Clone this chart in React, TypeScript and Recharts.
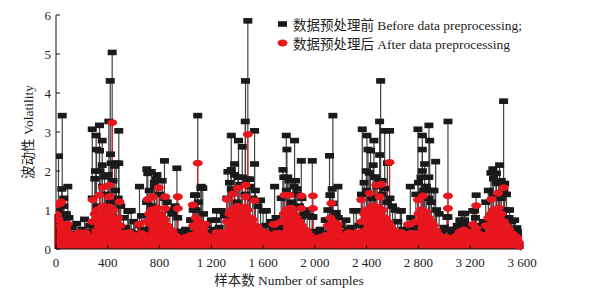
import React from "react";
import { ScatterChart, Scatter, XAxis, YAxis, ErrorBar } from "recharts";

// samples are read every 20 along the x axis for the dense lower part
const SAMPLE_STEP = 20;

const xTicks = [0, 400, 800, 1200, 1600, 2000, 2400, 2800, 3200, 3600];
const yTicks = [0, 1, 2, 3, 4, 5, 6];

// before preprocessing: dense lower values (one per SAMPLE_STEP)
const blackBase = [
  0.85, 1.0, 0.75, 1.1, 0.9, 0.8,
  0.55, 0.4, 0.65, 0.35, 0.5, 0.76, 0.45, 0.6,
  1.3, 1.8, 1.1, 2.0, 1.6, 1.4, 1.9, 1.2, 1.75, 1.5, 1.3, 1.1,
  0.8, 0.55, 0.98, 0.45, 0.7, 0.4, 0.6, 0.85, 0.5,
  1.2, 1.5, 1.1, 1.7, 1.9, 1.4, 1.75, 1.3, 1.2, 1.0, 0.9, 1.1, 0.8,
  0.45, 0.35, 0.5, 0.4, 0.74,
  1.0, 1.38, 1.2, 1.56, 0.9,
  0.6, 0.45, 0.74, 0.5, 0.98, 0.55, 0.4, 0.85,
  1.3, 1.7, 1.5, 1.9, 1.2, 1.65, 1.84, 1.4, 1.79, 1.6, 1.3, 1.5, 1.1, 1.25,
  0.98, 0.6, 0.45, 0.7, 0.5, 0.8, 0.55,
  1.3, 1.84, 1.5, 1.75, 1.2, 1.6, 1.4, 1.1, 1.3, 0.9, 1.0, 0.85, 0.82,
  0.45, 0.35, 0.5, 0.4, 0.74,
  1.0, 1.38, 1.17, 0.93, 0.8,
  0.6, 0.45, 0.74, 0.5, 0.55, 0.98, 0.4, 0.6,
  1.4, 1.7, 1.5, 1.95, 1.3, 1.84, 1.6, 1.75, 1.4, 1.55, 1.2, 1.3, 1.1, 1.0,
  0.7, 0.98, 0.5, 0.45, 0.6, 0.8, 0.55,
  1.4, 1.7, 1.84, 1.5, 1.6, 1.3, 1.2, 1.5, 1.0, 0.9,
  0.45, 0.55, 0.82, 0.5, 0.4,
  0.5, 0.6, 0.74, 0.91, 0.6, 0.5, 0.45, 0.98, 0.8, 0.6, 0.5, 0.7,
  1.2, 1.5, 1.95, 1.4, 1.7, 1.68, 1.3, 1.5, 1.0, 0.8, 0.7,
  0.5, 0.45, 0.35, 0.25,
];

// before preprocessing: the taller single samples [sample, volatility]
const blackPeaks: [number, number][] = [
  [19, 2.38], [48, 3.42], [45, 1.54], [91, 1.6], [60, 1.3],
  [280, 3.07], [336, 3.17], [310, 2.91], [357, 2.78], [313, 2.55], [336, 2.52],
  [357, 2.15], [305, 2.0], [421, 2.43], [485, 2.2], [454, 2.13], [408, 3.27],
  [419, 4.31], [434, 5.04], [485, 3.03], [375, 1.85], [427, 2.2], [465, 2.2],
  [555, 0.97], [581, 0.98], [645, 1.6], [702, 2.05], [709, 1.94], [736, 1.98],
  [774, 1.79], [838, 2.26], [934, 2.07], [760, 1.6],
  [1095, 3.42], [1122, 1.6], [1134, 1.56], [1070, 1.38], [1083, 1.0], [1045, 0.74],
  [1238, 0.74], [1277, 0.98],
  [1462, 3.27], [1464, 4.31], [1482, 5.85], [1534, 3.03], [1354, 2.91], [1410, 2.78],
  [1439, 2.62], [1328, 1.98], [1354, 2.03], [1380, 2.18], [1534, 2.18], [1405, 1.84],
  [1495, 1.79], [1354, 1.54],
  [1625, 0.98], [1689, 1.6],
  [1779, 2.91], [1843, 2.78], [1784, 2.55], [1753, 2.03], [1790, 1.84], [1895, 2.26],
  [1980, 2.26], [1850, 1.75], [1860, 1.54], [1985, 0.82], [1895, 0.82],
  [2139, 3.42], [2113, 2.39], [2134, 1.54], [2178, 1.6], [2116, 1.38], [2165, 0.93],
  [2088, 0.74], [2320, 0.98],
  [2366, 3.07], [2402, 2.91], [2456, 2.78], [2500, 3.27], [2508, 4.31], [2539, 3.03],
  [2577, 3.03], [2410, 2.55], [2430, 2.52], [2397, 2.0], [2450, 2.15], [2500, 2.41],
  [2560, 2.2], [2470, 1.84], [2520, 1.75],
  [2668, 0.98], [2737, 1.6],
  [2796, 3.07], [2881, 3.17], [2830, 2.91], [2887, 2.78], [2830, 2.55], [2933, 2.24],
  [2848, 2.18], [2830, 2.0], [2880, 1.84], [2860, 1.6], [2900, 1.5],
  [3028, 3.27], [3028, 0.82],
  [3157, 0.91], [3234, 0.98], [3246, 1.38], [3157, 0.74],
  [3458, 3.79], [3375, 2.05], [3427, 2.15], [3402, 1.94], [3466, 1.68], [3380, 1.8],
  [3440, 1.75], [3480, 1.4], [3504, 1.0], [3543, 0.74], [3560, 0.54], [3596, 0.44],
];

// after preprocessing: dense lower values (one per SAMPLE_STEP)
const redBase = [
  0.9, 0.75, 0.6, 0.63, 0.5, 0.4,
  0.3, 0.25, 0.35, 0.42, 0.3, 0.2, 0.35, 0.28,
  0.7, 0.9, 1.0, 0.8, 1.1, 0.95, 1.07, 0.85, 1.0, 0.75, 0.8, 0.6,
  0.4, 0.3, 0.42, 0.25, 0.35, 0.3, 0.63, 0.4, 0.3,
  0.7, 0.9, 1.0, 0.85, 1.05, 0.9, 0.8, 0.75, 0.6, 0.5, 0.45, 0.35, 0.3,
  0.25, 0.2, 0.3, 0.28, 0.35,
  0.6, 0.8, 0.7, 0.63, 0.5,
  0.35, 0.3, 0.25, 0.3, 0.42, 0.35, 0.28, 0.4,
  0.7, 0.9, 1.0, 0.85, 1.1, 0.95, 1.07, 0.9, 1.0, 0.8, 0.75, 0.6, 0.55, 0.45,
  0.4, 0.42, 0.3, 0.35, 0.63, 0.4, 0.3,
  0.7, 0.9, 1.0, 0.85, 1.05, 0.9, 0.8, 0.7, 0.6, 0.5, 0.45, 0.35, 0.3,
  0.25, 0.2, 0.3, 0.28, 0.35,
  0.6, 0.8, 0.7, 0.63, 0.5,
  0.35, 0.3, 0.25, 0.42, 0.3, 0.35, 0.28, 0.4,
  0.7, 0.9, 1.0, 0.85, 1.1, 0.95, 1.07, 0.9, 1.0, 0.8, 0.7, 0.6, 0.5, 0.42,
  0.35, 0.42, 0.3, 0.35, 0.63, 0.4, 0.3,
  0.7, 0.9, 1.0, 0.85, 0.95, 0.8, 0.7, 0.6, 0.45, 0.35,
  0.25, 0.2, 0.3, 0.28, 0.25,
  0.3, 0.35, 0.44, 0.4, 0.3, 0.35, 0.42, 0.63, 0.5, 0.4, 0.3, 0.35,
  0.6, 0.8, 0.9, 1.0, 0.85, 1.05, 0.9, 0.7, 0.6, 0.5, 0.4,
  0.35, 0.3, 0.25, 0.2,
];

// after preprocessing: the separate upper samples
const redPeaks: [number, number][] = [
  [6, 1.13], [40, 1.21], [35, 1.17], [91, 0.64], [228, 0.42],
  [284, 1.26], [336, 1.38], [362, 1.58], [413, 1.64], [413, 1.34], [413, 1.08],
  [434, 3.24], [491, 1.21], [568, 0.42], [645, 0.64],
  [709, 1.27], [748, 1.34], [794, 1.57], [844, 1.34], [844, 1.04], [941, 1.34], [941, 1.04],
  [1057, 1.13], [1095, 2.2], [1153, 0.64], [1277, 0.42],
  [1320, 1.27], [1366, 1.41], [1405, 1.56], [1465, 1.64], [1465, 1.34], [1465, 1.07],
  [1482, 2.94], [1534, 1.24], [1619, 0.42], [1689, 0.63],
  [1766, 1.38], [1804, 1.38], [1895, 1.36], [1895, 1.04], [1985, 1.36], [1985, 1.04],
  [2127, 1.17], [2178, 0.63], [2320, 0.42],
  [2358, 1.26], [2424, 1.43], [2474, 1.64], [2513, 1.66], [2500, 1.34], [2500, 1.04],
  [2577, 2.22], [2668, 0.42], [2737, 0.64], [2796, 1.26], [2835, 1.36],
  [3028, 1.36], [3028, 1.04], [3151, 0.49], [3246, 1.11], [3246, 0.53],
  [3363, 1.27], [3414, 1.43], [3458, 1.57], [3600, 0.05],
];

const BLACK = "#1a1a1a";
const RED = "#e8161e";
const FONT = "'Liberation Serif', 'Noto Sans CJK SC', serif";

// each point carries its stem as an error range reaching down to 0
const toPoint = (x: number, y: number) => ({ x, y, stem: [y, 0] });

const blackData = [
  ...blackBase.map((y, i) => toPoint(i * SAMPLE_STEP, y)),
  ...blackPeaks.map(([x, y]) => toPoint(x, y)),
];
const redBaseData = redBase.map((y, i) => toPoint(i * SAMPLE_STEP, y));
const redPeakData = redPeaks.map(([x, y]) => toPoint(x, y));

const fmtSample = (v: number) =>
  v >= 1000 ? `${Math.floor(v / 1000)} ${String(v % 1000).padStart(3, "0")}` : `${v}`;

// plain svg text so every sample label is kept
const SampleTick = ({ x, y, payload }: any) => (
  <text x={x} y={y} dy="0.75em" textAnchor="middle" fontSize={13} fill="#222" fontFamily={FONT}>
    {fmtSample(payload.value)}
  </text>
);

const SquareMark = (props: any) => {
  const { cx, cy } = props;
  if (cx == null || cy == null) return null;
  return <rect x={cx - 4.5} y={cy - 2.8} width={9} height={5.6} fill={BLACK} />;
};

const EllipseMark = (props: any) => {
  const { cx, cy } = props;
  if (cx == null || cy == null) return null;
  return <ellipse cx={cx} cy={cy} rx={5} ry={3.4} fill={RED} />;
};

export default function App() {
  const tickStyle = { fontSize: 13, fill: "#222", fontFamily: FONT };
  return (
    <div style={{ position: "absolute", left: 0, top: 0, width: 596, height: 292, background: "#fff" }}>
      <ScatterChart width={596} height={292} margin={{ top: 15, right: 74, bottom: 7, left: 16 }}>
        <XAxis
          type="number"
          dataKey="x"
          domain={[0, 3600]}
          ticks={xTicks}
          interval={0}
          tick={<SampleTick />}
          tickSize={-4}
          tickMargin={12}
          height={36}
          stroke="#111"
          allowDataOverflow
          label={{ value: "样本数 Number of samples", position: "insideBottom", offset: 0, style: { fontSize: 13.5, fill: "#222", fontFamily: FONT } }}
        />
        <YAxis
          type="number"
          dataKey="y"
          domain={[0, 6]}
          ticks={yTicks}
          interval={0}
          tick={tickStyle}
          tickSize={-4}
          tickMargin={9}
          width={40}
          stroke="#111"
          label={{ value: "波动性 Volatility", angle: -90, position: "insideLeft", offset: 12, style: { textAnchor: "middle", fontSize: 13.5, fill: "#222", fontFamily: FONT } }}
        />
        <Scatter data={blackData} shape={SquareMark} isAnimationActive={false}>
          <ErrorBar dataKey="stem" direction="y" width={0} stroke="#444" strokeWidth={1.2} isAnimationActive={false} />
        </Scatter>
        <Scatter data={redBaseData} shape={EllipseMark} isAnimationActive={false}>
          <ErrorBar dataKey="stem" direction="y" width={0} stroke={RED} strokeWidth={3.6} isAnimationActive={false} />
        </Scatter>
        <Scatter data={redPeakData} shape={EllipseMark} isAnimationActive={false}>
          <ErrorBar dataKey="stem" direction="y" width={0} stroke={RED} strokeWidth={1} isAnimationActive={false} />
        </Scatter>
      </ScatterChart>
      <div style={{ position: "absolute", left: 277, top: 14, fontFamily: FONT, fontSize: 13.5, color: "#222" }}>
        <div style={{ display: "flex", alignItems: "center", height: 19 }}>
          <svg width={12} height={10} style={{ marginRight: 4 }}>
            <rect x={1} y={2.2} width={9} height={5.6} fill={BLACK} />
          </svg>
          <span>数据预处理前 Before data preprocessing;</span>
        </div>
        <div style={{ display: "flex", alignItems: "center", height: 19 }}>
          <svg width={12} height={10} style={{ marginRight: 4 }}>
            <ellipse cx={5.5} cy={5} rx={5} ry={3.4} fill={RED} />
          </svg>
          <span>数据预处理后 After data preprocessing</span>
        </div>
      </div>
    </div>
  );
}
